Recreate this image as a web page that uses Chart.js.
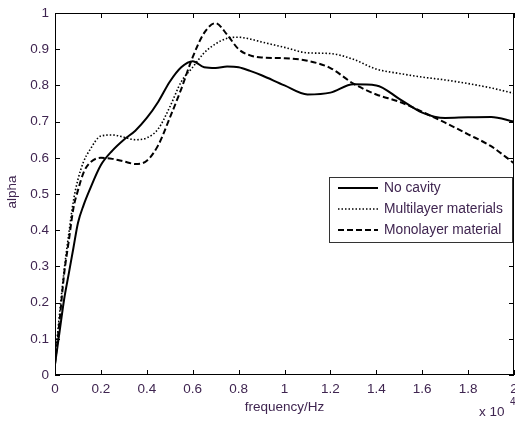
<!DOCTYPE html>
<html>
<head>
<meta charset="utf-8">
<script src="https://cdn.jsdelivr.net/npm/chart.js@4/dist/chart.umd.min.js"></script>
<style>
  html, body { margin: 0; padding: 0; background: #fff; }
  #wrap { width: 515px; height: 421px; }
</style>
</head>
<body>
<div id="wrap"><canvas id="chart" width="515" height="421"></canvas></div>
<script>
// frequency in units of 10^4 Hz
const freq = [0, 0.02, 0.04, 0.06, 0.08, 0.1, 0.125, 0.15, 0.2, 0.25, 0.3, 0.35, 0.4, 0.45, 0.5, 0.55, 0.6, 0.65, 0.7, 0.75, 0.8, 0.85, 0.9, 1.0, 1.1, 1.2, 1.3, 1.4, 1.5, 1.6, 1.7, 1.8, 1.9, 2.0];

const noCavity = [0.03, 0.12, 0.21, 0.28, 0.35, 0.42, 0.47, 0.51, 0.58, 0.62, 0.65, 0.675, 0.71, 0.755, 0.81, 0.85, 0.867, 0.85, 0.848, 0.852, 0.85, 0.84, 0.828, 0.80, 0.775, 0.78, 0.803, 0.80, 0.763, 0.725, 0.71, 0.712, 0.713, 0.70];

const multilayer = [0.04, 0.17, 0.29, 0.39, 0.48, 0.54, 0.59, 0.62, 0.66, 0.663, 0.657, 0.65, 0.655, 0.68, 0.74, 0.81, 0.85, 0.89, 0.915, 0.93, 0.933, 0.928, 0.92, 0.905, 0.89, 0.888, 0.872, 0.845, 0.833, 0.823, 0.815, 0.805, 0.793, 0.778];

const monolayer = [0.03, 0.15, 0.28, 0.37, 0.46, 0.51, 0.56, 0.585, 0.6, 0.597, 0.59, 0.583, 0.592, 0.635, 0.71, 0.79, 0.878, 0.945, 0.972, 0.94, 0.9, 0.883, 0.877, 0.875, 0.868, 0.848, 0.805, 0.775, 0.755, 0.727, 0.697, 0.665, 0.632, 0.585];

const xTicks = [0, 0.2, 0.4, 0.6, 0.8, 1, 1.2, 1.4, 1.6, 1.8, 2];
const yTicks = [0, 0.1, 0.2, 0.3, 0.4, 0.5, 0.6, 0.7, 0.8, 0.9, 1];

const textColor = "#3f2550";
const font = "Liberation Sans, Arial, sans-serif";

function toPoints(ys) {
  return freq.map((x, i) => ({ x: x, y: ys[i] }));
}

// frame, inward ticks, titles, legend (matlab style)
const matlabFrame = {
  id: "matlabFrame",
  afterDatasetsDraw(chart) {
    const ctx = chart.ctx;
    const a = chart.chartArea;
    const xs = chart.scales.x, ys = chart.scales.y;
    ctx.save();
    ctx.strokeStyle = "#000";
    ctx.lineWidth = 1;
    ctx.strokeRect(a.left + 0.5, a.top + 0.5, a.right - a.left - 1, a.bottom - a.top - 1);
    ctx.beginPath();
    xTicks.forEach(v => {
      const px = Math.round(xs.getPixelForValue(v)) + 0.5;
      ctx.moveTo(px, a.bottom); ctx.lineTo(px, a.bottom - 5);
      ctx.moveTo(px, a.top); ctx.lineTo(px, a.top + 5);
    });
    yTicks.forEach(v => {
      const py = Math.round(ys.getPixelForValue(v)) + 0.5;
      ctx.moveTo(a.left, py); ctx.lineTo(a.left + 5, py);
      ctx.moveTo(a.right, py); ctx.lineTo(a.right - 5, py);
    });
    ctx.stroke();

    // axis titles
    ctx.fillStyle = textColor;
    ctx.font = "13.5px " + font;
    ctx.textAlign = "center";
    ctx.textBaseline = "middle";
    ctx.fillText("frequency/Hz", (a.left + a.right) / 2, 407);
    ctx.save();
    ctx.translate(12, (a.top + a.bottom) / 2 - 2);
    ctx.rotate(-Math.PI / 2);
    ctx.fillText("alpha", 0, 0);
    ctx.restore();
    ctx.textAlign = "left";
    ctx.fillText("x 10", 479, 412);
    ctx.font = "10px " + font;
    ctx.fillText("4", 510, 402);

    // legend
    const lx = 329, ly = 177, lw = 183, lh = 65;
    ctx.fillStyle = "#fff";
    ctx.fillRect(lx, ly, lw, lh);
    ctx.strokeStyle = "#333";
    ctx.strokeRect(lx + 0.5, ly + 0.5, lw, lh);
    const rows = [188, 209, 230];
    chart.data.datasets.forEach((ds, i) => {
      ctx.strokeStyle = "#000";
      ctx.lineWidth = ds.borderWidth;
      ctx.setLineDash(ds.borderDash || []);
      ctx.beginPath();
      ctx.moveTo(338, rows[i]);
      ctx.lineTo(378, rows[i]);
      ctx.stroke();
      ctx.setLineDash([]);
      ctx.fillStyle = textColor;
      ctx.font = "13.8px " + font;
      ctx.textAlign = "left";
      ctx.textBaseline = "middle";
      ctx.fillText(ds.label, 384, rows[i]);
    });
    ctx.restore();
  }
};

new Chart(document.getElementById("chart"), {
  type: "line",
  data: {
    datasets: [
      { label: "No cavity", data: toPoints(noCavity), borderColor: "#000", borderWidth: 2, borderDash: [] },
      { label: "Multilayer materials", data: toPoints(multilayer), borderColor: "#000", borderWidth: 1.6, borderDash: [1.5, 2] },
      { label: "Monolayer material", data: toPoints(monolayer), borderColor: "#000", borderWidth: 2, borderDash: [6, 3] }
    ]
  },
  options: {
    responsive: false,
    animation: false,
    events: [],
    layout: { padding: { top: 13, right: 1, left: 0, bottom: 0 } },
    elements: {
      point: { radius: 0 },
      line: { cubicInterpolationMode: "monotone", fill: false }
    },
    plugins: { legend: { display: false }, tooltip: { enabled: false } },
    scales: {
      x: {
        type: "linear",
        min: 0, max: 2,
        afterFit(s) { s.height = 46; s.paddingLeft = 0; s.paddingRight = 0; },
        afterBuildTicks(s) { s.ticks = xTicks.map(v => ({ value: v })); },
        grid: { display: false, drawTicks: false },
        border: { display: false },
        ticks: {
          padding: 6,
          color: textColor,
          font: { family: font, size: 13.5 },
          maxRotation: 0,
          callback: v => String(v)
        }
      },
      y: {
        min: 0, max: 1,
        afterFit(s) { s.width = 55; s.paddingTop = 0; s.paddingBottom = 0; },
        afterBuildTicks(s) { s.ticks = yTicks.map(v => ({ value: v })); },
        grid: { display: false, drawTicks: false },
        border: { display: false },
        ticks: {
          padding: 6,
          color: textColor,
          font: { family: font, size: 13.5 },
          callback: v => String(v)
        }
      }
    }
  },
  plugins: [matlabFrame]
});
</script>
</body>
</html>
